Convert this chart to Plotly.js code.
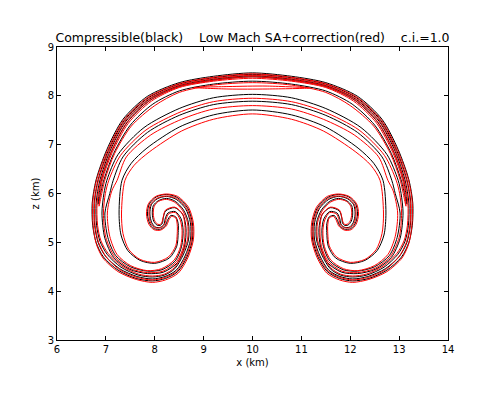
<!DOCTYPE html>
<html>
<head>
<meta charset="utf-8">
<script src="https://cdn.plot.ly/plotly-3.0.1.min.js"></script>
<style>
  html, body { margin: 0; padding: 0; background: #fff; }
  #chart { width: 487px; height: 399px; }
</style>
</head>
<body>
<div id="chart"></div>
<script>
// Thermal bubble contours: [x (km), z (km)] along each closed contour

const titleText = 'Compressible(black)    Low Mach SA+correction(red)    c.i.=1.0';
const xTicks = [6, 7, 8, 9, 10, 11, 12, 13, 14];
const yTicks = [3, 4, 5, 6, 7, 8, 9];

// Compressible (black)
const black1 = [
  [10.00,8.47],[9.20,8.40],[8.50,8.27],[7.85,7.99],[7.35,7.52],[7.02,6.90],[6.80,6.28],[6.72,5.80],[6.73,5.35],[6.80,5.00],
  [6.95,4.70],[7.25,4.43],[7.62,4.26],[7.95,4.21],[8.22,4.26],[8.47,4.40],[8.66,4.70],[8.77,5.05],[8.77,5.40],[8.67,5.71],
  [8.46,5.92],[8.24,5.98],[8.03,5.93],[7.89,5.79],[7.85,5.58],[7.90,5.38],[7.99,5.28],[8.12,5.27],[8.22,5.35],[8.26,5.45],
  [8.33,5.55],[8.43,5.52],[8.48,5.38],[8.48,5.20],[8.45,4.92],[8.30,4.68],[8.00,4.57],[7.70,4.63],[7.45,4.83],[7.31,5.15],
  [7.27,5.60],[7.33,6.27],[7.52,6.62],[7.84,6.93],[8.50,7.36],[9.20,7.61],[10.00,7.71],
  [10.80,7.61],[11.50,7.36],[12.16,6.93],[12.48,6.62],[12.67,6.27],[12.73,5.60],[12.69,5.15],[12.55,4.83],[12.30,4.63],
  [12.00,4.57],[11.70,4.68],[11.55,4.92],[11.52,5.20],[11.52,5.38],[11.57,5.52],[11.67,5.55],[11.74,5.45],[11.78,5.35],
  [11.88,5.27],[12.01,5.28],[12.10,5.38],[12.15,5.58],[12.11,5.79],[11.97,5.93],[11.76,5.98],[11.54,5.92],[11.33,5.71],
  [11.23,5.40],[11.23,5.05],[11.34,4.70],[11.53,4.40],[11.78,4.26],[12.05,4.21],[12.38,4.26],[12.75,4.43],[13.05,4.70],
  [13.20,5.00],[13.27,5.35],[13.28,5.80],[13.20,6.28],[12.98,6.90],[12.65,7.52],[12.15,7.99],[11.50,8.27],[10.80,8.40],[10.00,8.47]
];
const black2 = [
  [10.00,8.44],[9.20,8.37],[8.50,8.24],[7.87,7.96],[7.38,7.50],[7.05,6.88],[6.84,6.28],[6.76,5.80],[6.77,5.35],[6.84,5.00],
  [6.99,4.72],[7.28,4.46],[7.64,4.30],[7.95,4.25],[8.21,4.30],[8.44,4.43],[8.62,4.72],[8.73,5.05],[8.73,5.40],[8.63,5.69],
  [8.44,5.88],[8.24,5.94],[8.05,5.89],[7.93,5.77],[7.90,5.58],[7.94,5.40],[8.02,5.31],[8.12,5.31],[8.19,5.37],[8.21,5.47],
  [8.27,5.60],[8.42,5.63],[8.54,5.48],[8.58,5.25],[8.55,4.92],[8.42,4.62],[8.15,4.44],[7.85,4.41],[7.50,4.50],[7.20,4.73],
  [7.04,5.10],[6.98,5.60],[7.08,6.00],[7.15,6.27],[7.35,6.75],[7.85,7.25],[8.50,7.60],[9.20,7.82],[10.00,7.89],
  [10.80,7.82],[11.50,7.60],[12.15,7.25],[12.65,6.75],[12.85,6.27],[12.92,6.00],[13.02,5.60],[12.96,5.10],[12.80,4.73],
  [12.50,4.50],[12.15,4.41],[11.85,4.44],[11.58,4.62],[11.45,4.92],[11.42,5.25],[11.46,5.48],[11.58,5.63],[11.73,5.60],
  [11.79,5.47],[11.81,5.37],[11.88,5.31],[11.98,5.31],[12.06,5.40],[12.10,5.58],[12.07,5.77],[11.95,5.89],[11.76,5.94],
  [11.56,5.88],[11.37,5.69],[11.27,5.40],[11.27,5.05],[11.38,4.72],[11.56,4.43],[11.79,4.30],[12.05,4.25],[12.36,4.30],
  [12.72,4.46],[13.01,4.72],[13.16,5.00],[13.23,5.35],[13.24,5.80],[13.16,6.28],[12.95,6.88],[12.62,7.50],[12.13,7.96],
  [11.50,8.24],[10.80,8.37],[10.00,8.44]
];
const black3 = [
  [10.00,8.41],[9.20,8.34],[8.50,8.21],[7.89,7.93],[7.41,7.48],[7.08,6.86],[6.88,6.28],[6.80,5.80],[6.81,5.35],[6.88,5.02],
  [7.03,4.75],[7.31,4.49],[7.66,4.33],[7.95,4.29],[8.20,4.33],[8.41,4.46],[8.58,4.74],[8.69,5.05],[8.69,5.40],[8.59,5.66],
  [8.42,5.84],[8.24,5.90],[8.07,5.85],[7.97,5.75],[7.95,5.58],[7.98,5.43],[8.05,5.35],[8.12,5.35],[8.16,5.40],[8.17,5.48],
  [8.22,5.64],[8.41,5.71],[8.58,5.56],[8.64,5.28],[8.61,4.92],[8.47,4.59],[8.18,4.39],[7.85,4.36],[7.48,4.45],[7.16,4.69],
  [6.98,5.08],[6.92,5.60],[6.96,6.00],[7.02,6.27],[7.25,6.80],[7.78,7.35],[8.50,7.74],[9.20,7.96],[10.00,8.03],
  [10.80,7.96],[11.50,7.74],[12.22,7.35],[12.75,6.80],[12.98,6.27],[13.04,6.00],[13.08,5.60],[13.02,5.08],[12.84,4.69],
  [12.52,4.45],[12.15,4.36],[11.82,4.39],[11.53,4.59],[11.39,4.92],[11.36,5.28],[11.42,5.56],[11.59,5.71],[11.78,5.64],
  [11.83,5.48],[11.84,5.40],[11.88,5.35],[11.95,5.35],[12.02,5.43],[12.05,5.58],[12.03,5.75],[11.93,5.85],[11.76,5.90],
  [11.58,5.84],[11.41,5.66],[11.31,5.40],[11.31,5.05],[11.42,4.74],[11.59,4.46],[11.80,4.33],[12.05,4.29],[12.34,4.33],
  [12.69,4.49],[12.97,4.75],[13.12,5.02],[13.19,5.35],[13.20,5.80],[13.12,6.28],[12.92,6.86],[12.59,7.48],[12.11,7.93],
  [11.50,8.21],[10.80,8.34],[10.00,8.41]
];
const black4 = [
  [6.84,5.78],[6.91,6.28],[7.11,6.85],[7.44,7.46],[7.91,7.91],[8.50,8.19],[9.20,8.32],[10.00,8.39],[10.80,8.32],[11.50,8.19],
  [12.09,7.91],[12.56,7.46],[12.89,6.85],[13.09,6.28],[13.16,5.78],[13.04,6.28],[12.84,6.82],[12.50,7.40],[12.04,7.83],
  [11.50,8.10],[10.80,8.24],[10.00,8.30],[9.20,8.24],[8.50,8.10],[7.96,7.83],[7.50,7.40],[7.16,6.82],[6.96,6.28],[6.84,5.78]
];

// Low Mach SA + correction (red)
const red1 = [
  [10.00,8.45],[9.20,8.38],[8.50,8.25],[7.86,7.97],[7.36,7.50],[7.03,6.88],[6.81,6.28],[6.73,5.80],[6.74,5.35],[6.80,4.98],
  [6.94,4.68],[7.25,4.40],[7.62,4.24],[7.95,4.18],[8.22,4.23],[8.48,4.37],[8.68,4.69],[8.79,5.05],[8.79,5.40],[8.69,5.72],
  [8.47,5.94],[8.24,5.99],[8.02,5.94],[7.87,5.79],[7.83,5.58],[7.88,5.37],[7.98,5.26],[8.12,5.25],[8.24,5.34],[8.28,5.44],
  [8.34,5.53],[8.43,5.50],[8.46,5.36],[8.46,5.18],[8.43,4.93],[8.28,4.70],[8.00,4.59],[7.70,4.65],[7.47,4.85],[7.35,5.18],
  [7.32,5.60],[7.39,6.27],[7.58,6.58],[7.90,6.86],[8.55,7.28],[9.20,7.52],[10.00,7.63],
  [10.80,7.52],[11.45,7.28],[12.10,6.86],[12.42,6.58],[12.61,6.27],[12.68,5.60],[12.65,5.18],[12.53,4.85],[12.30,4.65],
  [12.00,4.59],[11.72,4.70],[11.57,4.93],[11.54,5.18],[11.54,5.36],[11.57,5.50],[11.66,5.53],[11.72,5.44],[11.76,5.34],
  [11.88,5.25],[12.02,5.26],[12.12,5.37],[12.17,5.58],[12.13,5.79],[11.98,5.94],[11.76,5.99],[11.53,5.94],[11.31,5.72],
  [11.21,5.40],[11.21,5.05],[11.32,4.69],[11.52,4.37],[11.78,4.23],[12.05,4.18],[12.38,4.24],[12.75,4.40],[13.06,4.68],
  [13.20,4.98],[13.26,5.35],[13.27,5.80],[13.19,6.28],[12.97,6.88],[12.64,7.50],[12.14,7.97],[11.50,8.25],[10.80,8.38],[10.00,8.45]
];
const red2 = [
  [10.00,8.42],[9.20,8.35],[8.50,8.22],[7.88,7.94],[7.39,7.48],[7.06,6.86],[6.85,6.28],[6.77,5.80],[6.78,5.35],[6.85,5.00],
  [7.00,4.71],[7.28,4.44],[7.64,4.28],[7.95,4.23],[8.21,4.28],[8.45,4.41],[8.64,4.71],[8.75,5.05],[8.75,5.40],[8.65,5.70],
  [8.45,5.90],[8.24,5.95],[8.04,5.90],[7.91,5.77],[7.88,5.58],[7.92,5.39],[8.01,5.30],[8.12,5.30],[8.20,5.36],[8.23,5.46],
  [8.28,5.58],[8.42,5.61],[8.52,5.46],[8.56,5.24],[8.53,4.92],[8.40,4.64],[8.14,4.46],[7.85,4.42],[7.51,4.52],[7.23,4.75],
  [7.08,5.12],[7.03,5.60],[7.12,6.05],[7.23,6.27],[7.42,6.75],[7.92,7.20],[8.55,7.52],[9.20,7.73],[10.00,7.80],
  [10.80,7.73],[11.45,7.52],[12.08,7.20],[12.58,6.75],[12.77,6.27],[12.88,6.05],[12.97,5.60],[12.92,5.12],[12.77,4.75],
  [12.49,4.52],[12.15,4.42],[11.86,4.46],[11.60,4.64],[11.47,4.92],[11.44,5.24],[11.48,5.46],[11.58,5.61],[11.72,5.58],
  [11.77,5.46],[11.80,5.36],[11.88,5.30],[11.99,5.30],[12.08,5.39],[12.12,5.58],[12.09,5.77],[11.96,5.90],[11.76,5.95],
  [11.55,5.90],[11.35,5.70],[11.25,5.40],[11.25,5.05],[11.36,4.71],[11.55,4.41],[11.79,4.28],[12.05,4.23],[12.36,4.28],
  [12.72,4.44],[13.00,4.71],[13.15,5.00],[13.22,5.35],[13.23,5.80],[13.15,6.28],[12.94,6.86],[12.61,7.48],[12.12,7.94],
  [11.50,8.22],[10.80,8.35],[10.00,8.42]
];
const red3 = [
  [10.00,8.39],[9.20,8.32],[8.50,8.19],[7.90,7.91],[7.43,7.46],[7.10,6.84],[6.90,6.28],[6.82,5.80],[6.83,5.35],[6.90,5.03],
  [7.05,4.77],[7.33,4.51],[7.67,4.35],[7.95,4.31],[8.20,4.35],[8.40,4.48],[8.56,4.76],[8.67,5.05],[8.67,5.40],[8.57,5.65],
  [8.41,5.82],[8.24,5.88],[8.08,5.84],[7.99,5.74],[7.97,5.58],[8.00,5.44],[8.06,5.37],[8.12,5.37],[8.15,5.42],[8.17,5.50],
  [8.22,5.66],[8.41,5.72],[8.57,5.58],[8.62,5.30],[8.59,4.92],[8.45,4.61],[8.17,4.41],[7.85,4.38],[7.49,4.47],[7.18,4.71],
  [7.00,5.10],[6.95,5.60],[6.99,6.00],[7.06,6.27],[7.30,6.78],[7.82,7.30],[8.55,7.68],[9.20,7.88],[10.00,7.95],
  [10.80,7.88],[11.45,7.68],[12.18,7.30],[12.70,6.78],[12.94,6.27],[13.01,6.00],[13.05,5.60],[13.00,5.10],[12.82,4.71],
  [12.51,4.47],[12.15,4.38],[11.83,4.41],[11.55,4.61],[11.41,4.92],[11.38,5.30],[11.43,5.58],[11.59,5.72],[11.78,5.66],
  [11.83,5.50],[11.85,5.42],[11.88,5.37],[11.94,5.37],[12.00,5.44],[12.03,5.58],[12.01,5.74],[11.92,5.84],[11.76,5.88],
  [11.59,5.82],[11.43,5.65],[11.33,5.40],[11.33,5.05],[11.44,4.76],[11.60,4.48],[11.80,4.35],[12.05,4.31],[12.33,4.35],
  [12.67,4.51],[12.95,4.77],[13.10,5.03],[13.17,5.35],[13.18,5.80],[13.10,6.28],[12.90,6.84],[12.57,7.46],[12.10,7.91],
  [11.50,8.19],[10.80,8.32],[10.00,8.39]
];
const red4 = [
  [6.86,5.74],[6.93,6.28],[7.13,6.84],[7.46,7.44],[7.93,7.89],[8.50,8.17],[9.20,8.30],[10.00,8.36],[10.80,8.30],[11.50,8.17],
  [12.07,7.89],[12.54,7.44],[12.87,6.84],[13.07,6.28],[13.14,5.74],[13.02,6.28],[12.82,6.82],[12.48,7.38],[12.00,7.80],
  [11.50,8.07],[10.80,8.22],[10.00,8.27],[9.20,8.22],[8.50,8.07],[8.00,7.80],[7.52,7.38],[7.18,6.82],[6.98,6.28],[6.86,5.74]
];
const red5 = [
  [8.80,8.17],[9.50,8.19],[10.30,8.20],[11.17,8.16],[10.30,8.14],[9.50,8.14],[8.80,8.17]
];

const blackContours = [black1, black2, black3, black4];
const redContours = [red1, red2, red3, red4, red5];

function contourTrace(pts, color) {
  return {
    x: pts.map(p => p[0]),
    y: pts.map(p => p[1]),
    mode: 'lines',
    line: { color: color, width: 1, shape: 'spline', smoothing: 0.8 },
    hoverinfo: 'skip'
  };
}

const traces = [];
blackContours.forEach(c => traces.push(contourTrace(c, '#000000')));
redContours.forEach(c => traces.push(contourTrace(c, '#ff0000')));

const axisStyle = {
  ticks: 'inside',
  ticklen: 4,
  tickwidth: 1,
  tickcolor: '#000',
  showline: true,
  mirror: 'allticks',
  linecolor: '#000',
  linewidth: 1,
  showgrid: false,
  zeroline: false,
  tickfont: { size: 10, color: '#000' }
};

const layout = {
  width: 487,
  height: 399,
  margin: { l: 57, r: 39, t: 47, b: 59 },
  paper_bgcolor: '#ffffff',
  plot_bgcolor: '#ffffff',
  font: { family: 'DejaVu Sans', size: 10, color: '#000' },
  showlegend: false,
  title: {
    text: titleText,
    font: { size: 12.5, color: '#000' },
    x: 0.5, xref: 'paper',
    y: 1, yref: 'paper', yanchor: 'bottom',
    pad: { b: 5 }
  },
  xaxis: Object.assign({}, axisStyle, {
    range: [6, 14],
    tickvals: xTicks,
    title: { text: 'x (km)', font: { size: 10 }, standoff: 4 }
  }),
  yaxis: Object.assign({}, axisStyle, {
    range: [3, 9],
    tickvals: yTicks,
    title: { text: 'z (km)', font: { size: 10 }, standoff: 6 }
  })
};

Plotly.newPlot('chart', traces, layout, { staticPlot: true, displayModeBar: false });
</script>
</body>
</html>
